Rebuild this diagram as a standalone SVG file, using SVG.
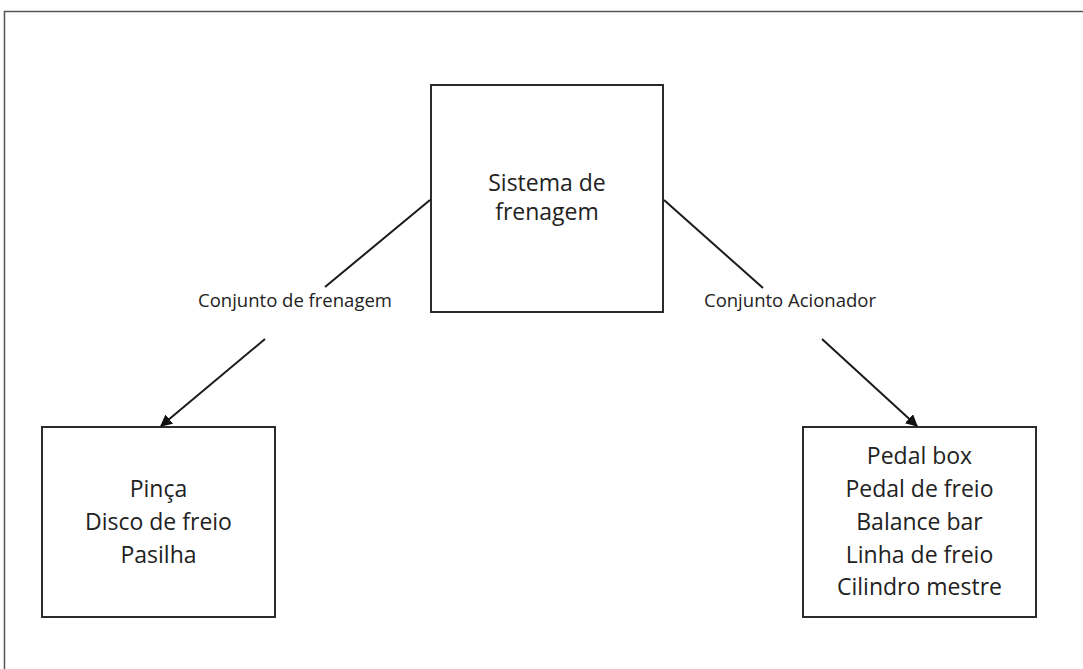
<svg xmlns="http://www.w3.org/2000/svg" width="1083" height="669" viewBox="0 0 1083 669">
  <style>
    .box { fill: #ffffff; stroke: #2b2b2b; stroke-width: 2; }
    .txt { font-family: "Open Sans", "Noto Sans", sans-serif; font-size: 23px; fill: #222; text-anchor: middle; }
    .lbl { font-family: "Open Sans", "Noto Sans", sans-serif; font-size: 18.5px; fill: #222; text-anchor: middle; }
    .edge { stroke: #1a1a1a; stroke-width: 2; fill: none; }
  </style>
  <defs>
    <marker id="arrow" viewBox="0 0 10 10" refX="9" refY="5" markerWidth="6" markerHeight="6" orient="auto" markerUnits="strokeWidth">
      <path d="M0,0 L10,5 L0,10 Z" fill="#111"/>
    </marker>
  </defs>
  <rect width="1083" height="669" fill="#ffffff"/>
  <!-- page frame -->
  <path d="M4.5,669 L4.5,11.5 L1083,11.5" fill="none" stroke="#555" stroke-width="1.5"/>

  <g id="sistema">
    <rect class="box" x="431" y="85" width="232" height="227"/>
    <text class="txt" x="547" y="191">Sistema de</text>
    <text class="txt" x="547" y="220">frenagem</text>
  </g>

  <g id="conjunto-frenagem">
    <rect class="box" x="42" y="427" width="233" height="190"/>
    <text class="txt" x="158.5" y="497">Pinça</text>
    <text class="txt" x="158.5" y="530">Disco de freio</text>
    <text class="txt" x="158.5" y="563">Pasilha</text>
  </g>

  <g id="conjunto-acionador">
    <rect class="box" x="803" y="427" width="233" height="190"/>
    <text class="txt" x="919.5" y="464">Pedal box</text>
    <text class="txt" x="919.5" y="497">Pedal de freio</text>
    <text class="txt" x="919.5" y="530">Balance bar</text>
    <text class="txt" x="919.5" y="563">Linha de freio</text>
    <text class="txt" x="919.5" y="595">Cilindro mestre</text>
  </g>

  <g id="connectors">
    <line class="edge" x1="430" y1="200" x2="325" y2="287"/>
    <line class="edge" x1="265" y1="339" x2="161" y2="426" marker-end="url(#arrow)"/>
    <text class="lbl" x="295" y="307">Conjunto de frenagem</text>
    <line class="edge" x1="664" y1="200" x2="763" y2="288"/>
    <line class="edge" x1="822" y1="339" x2="917" y2="426" marker-end="url(#arrow)"/>
    <text class="lbl" x="790" y="307">Conjunto Acionador</text>
  </g>
</svg>
